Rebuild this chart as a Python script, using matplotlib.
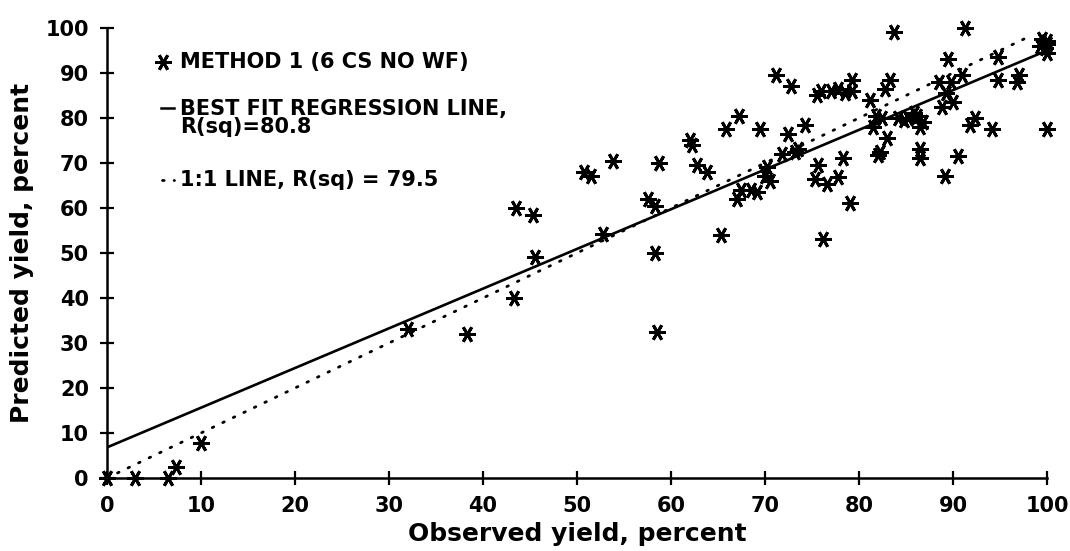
import numpy as np
import matplotlib
matplotlib.use("Agg")
import matplotlib.pyplot as plt

# observed vs predicted yield (percent)
observed = [0, 3, 6.5, 7.3, 10, 32, 38.3, 43.3, 43.5, 45.3, 45.5, 50.7, 51.5, 52.8, 53.8,
            57.6, 58.3, 58.3, 58.5, 58.7, 62, 62.2, 62.8, 63.8, 65.3, 65.8, 67, 67.2, 67.5,
            68.5, 69.2, 69.5, 70, 70.2, 70.5, 71.2, 71.8, 72.5, 72.8, 73.2, 73.5, 74.3, 75.3,
            75.5, 75.6, 76, 76.2, 76.6, 77, 77.8, 77.8, 78.3, 78.5, 79, 79.3, 79.3, 81.2,
            81.5, 81.8, 82, 82.2, 82.5, 82.8, 83, 83.3, 83.7, 84.2, 84.8, 85.2, 85.8, 86.2,
            86.5, 86.5, 86.8, 86.5, 88.5, 88.8, 89.2, 89.3, 89.5, 89.8, 90, 90.5, 91, 91.3,
            91.8, 92.3, 94.2, 94.8, 94.8, 96.8, 97, 99.3, 99.5, 99.8, 100, 100, 100, 100]
predicted = [0, 0, 0, 2.5, 7.7, 33, 32, 40, 60, 58.5, 49, 68, 67, 54.3, 70.5,
             62, 60.5, 50, 32.5, 70, 75, 74, 69.5, 68, 54, 77.5, 62, 80.5, 64,
             64, 63.5, 77.5, 67, 69, 66, 89.5, 72, 76.5, 87, 72.5, 73, 78.5, 66.5,
             85, 69.5, 86, 53, 65.3, 86, 86.5, 66.8, 71, 85.5, 61, 88.5, 86, 84,
             78, 80.5, 71.8, 72.5, 80, 86.5, 75.5, 88.5, 99, 80, 79.5, 80, 81, 80.5,
             73, 71, 79, 78, 88, 82.5, 67, 85.5, 93, 88, 83.5, 71.5, 89.5, 100,
             78.5, 80, 77.5, 88.5, 93.5, 88, 89.5, 96, 97.5, 95.5, 94.5, 96.5, 77.5, 97]

fit_intercept = 6.8
fit_slope = 0.882
line_x = [0, 100]
one_to_one_x = [0, 98]

ticks = [0, 10, 20, 30, 40, 50, 60, 70, 80, 90, 100]

plt.rcParams['font.family'] = ['DejaVu Sans']
plt.rcParams['font.weight'] = 'bold'

fig = plt.figure(figsize=(10.7, 5.51), dpi=100)
ax = fig.add_axes([0.1, 0.1325, 0.8785, 0.8167])

star = (6, 2, 30)
dots = (0, (0.6, 3.6))
ax.plot(observed, predicted, linestyle='none', marker=star, markersize=12,
        markeredgewidth=2.1, color='black', clip_on=False, zorder=3)

fit_y = [fit_intercept + fit_slope * x for x in line_x]
ax.plot(line_x, fit_y, color='black', linewidth=1.9, solid_capstyle='butt', zorder=2)
ax.plot(one_to_one_x, one_to_one_x, color='black', linewidth=2.0,
        linestyle=dots, dash_capstyle='round', zorder=2)

ax.set_xlim(0, 100)
ax.set_ylim(0, 100)
ax.set_xticks(ticks)
ax.set_yticks(ticks)
ax.tick_params(direction='inout', length=10, width=1.6, labelsize=15, pad=8)
for s in ['top', 'right']:
    ax.spines[s].set_visible(False)
for s in ['left', 'bottom']:
    ax.spines[s].set_linewidth(1.8)

ax.set_xlabel('Observed yield, percent', fontsize=18, fontweight='bold', labelpad=4)
ax.set_ylabel('Predicted yield, percent', fontsize=18, fontweight='bold', labelpad=8)

# hand-drawn legend like the original
tr = ax.transAxes
tx = 0.078
ax.plot([0.0596], [0.924], marker=star, markersize=12, markeredgewidth=2.1,
        color='black', transform=tr, clip_on=False)
ax.text(tx, 0.924, 'METHOD 1 (6 CS NO WF)', transform=tr, fontsize=15,
        fontweight='bold', va='center')
ax.plot([0.0575, 0.0715], [0.822, 0.822], color='black', linewidth=1.8, transform=tr)
ax.text(tx, 0.842, 'BEST FIT REGRESSION LINE,\nR(sq)=80.8', transform=tr, fontsize=15,
        fontweight='bold', va='top', linespacing=0.85)
ax.plot([0.0585, 0.0715], [0.662, 0.662], color='black', linewidth=2.0,
        linestyle=dots, dash_capstyle='round', transform=tr)
ax.text(tx, 0.662, '1:1 LINE, R(sq) = 79.5', transform=tr, fontsize=15,
        fontweight='bold', va='center')

fig.savefig('out.png', dpi=100)
